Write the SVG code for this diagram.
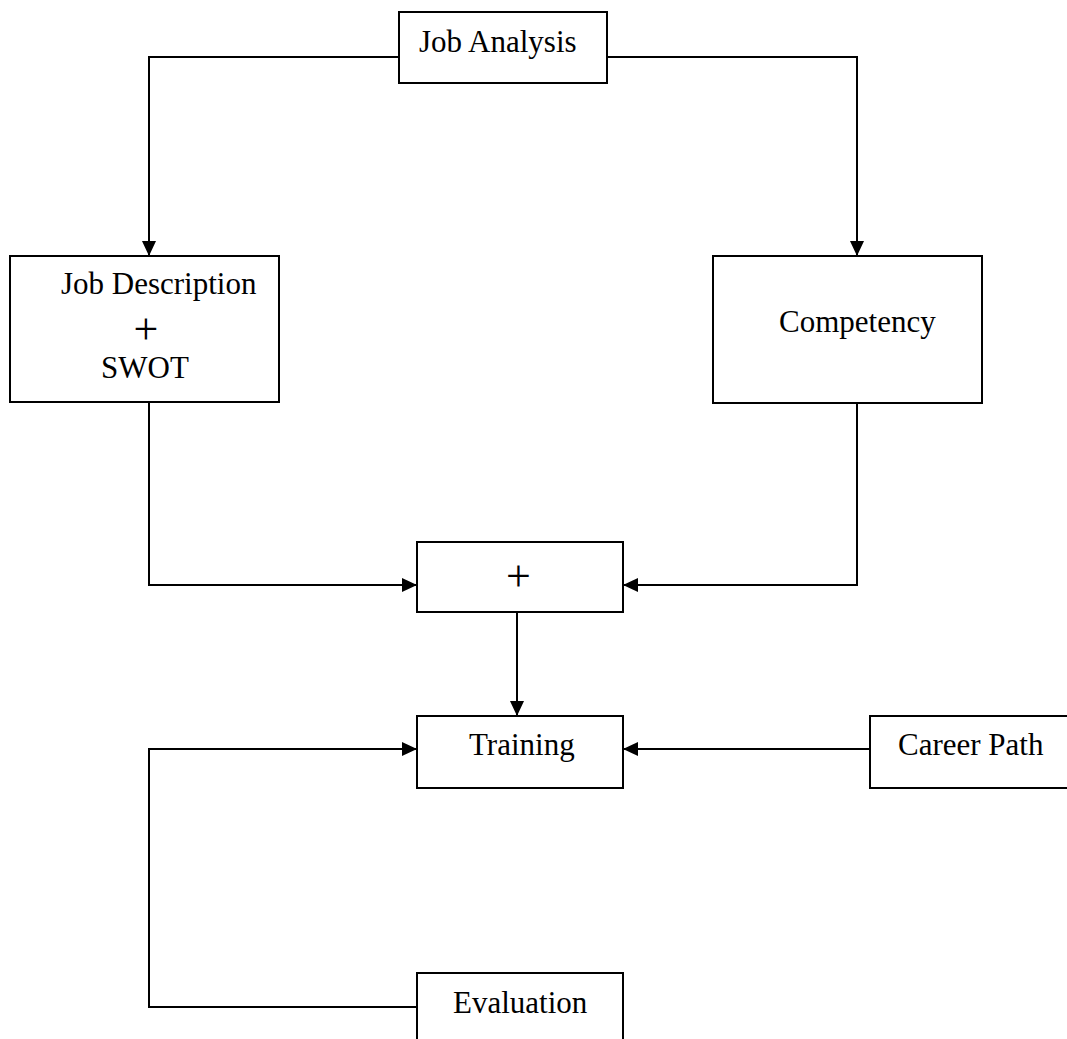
<svg xmlns="http://www.w3.org/2000/svg" width="1067" height="1039" viewBox="0 0 1067 1039">
<style>
.box{fill:#fff;stroke:#000;stroke-width:2}
.lbl{font-family:"Liberation Serif","Times New Roman",serif;font-size:31px;fill:#000}
.plus{font-family:"Liberation Serif","Times New Roman",serif;font-size:44px;fill:#000;text-anchor:middle}
.con{fill:none;stroke:#000;stroke-width:2}
</style>
<defs>
<marker id="arr" markerUnits="userSpaceOnUse" markerWidth="15" markerHeight="14" refX="15" refY="7" orient="auto">
<path d="M0,0 L15,7 L0,14 z" fill="#000"/>
</marker>
</defs>
<rect width="1067" height="1039" fill="#fff"/>
<g id="connectors">
<path class="con" d="M399,57 H149 V256" marker-end="url(#arr)"/>
<path class="con" d="M607,57 H857 V256" marker-end="url(#arr)"/>
<path class="con" d="M149,403 V585 H417" marker-end="url(#arr)"/>
<path class="con" d="M857,403 V585 H623" marker-end="url(#arr)"/>
<path class="con" d="M517,612 V716" marker-end="url(#arr)"/>
<path class="con" d="M870,749 H623" marker-end="url(#arr)"/>
<path class="con" d="M417,1007 H149 V749 H417" marker-end="url(#arr)"/>
</g>
<g id="job-analysis">
<rect class="box" x="399" y="12" width="208" height="71"/>
<text class="lbl" x="419" y="52">Job Analysis</text>
</g>
<g id="job-description">
<rect class="box" x="10" y="256" width="269" height="146"/>
<text class="lbl" x="61" y="294">Job Description</text>
<text class="plus" x="146" y="344">+</text>
<text class="lbl" x="101" y="378">SWOT</text>
</g>
<g id="competency">
<rect class="box" x="713" y="256" width="269" height="147"/>
<text class="lbl" x="779" y="332">Competency</text>
</g>
<g id="combine">
<rect class="box" x="417" y="542" width="206" height="70"/>
<text class="plus" x="518.5" y="591">+</text>
</g>
<g id="training">
<rect class="box" x="417" y="716" width="206" height="72"/>
<text class="lbl" x="469" y="755">Training</text>
</g>
<g id="career-path">
<rect class="box" x="870" y="716" width="210" height="72"/>
<text class="lbl" x="898" y="755">Career Path</text>
</g>
<g id="evaluation">
<rect class="box" x="417" y="973" width="206" height="80"/>
<text class="lbl" x="453" y="1013">Evaluation</text>
</g>
</svg>
